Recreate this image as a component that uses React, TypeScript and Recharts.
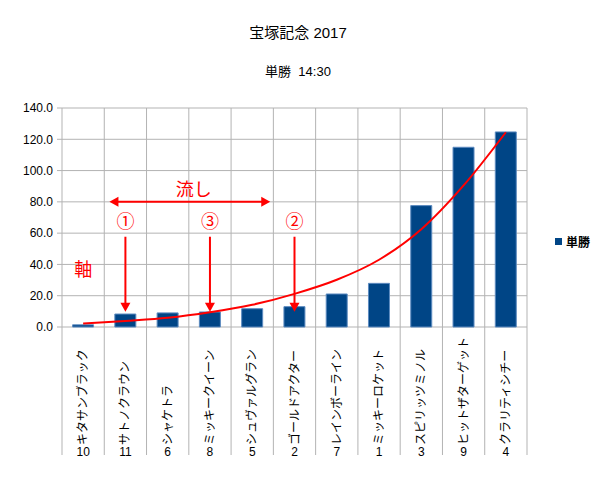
import {
  Bar,
  CartesianGrid,
  ComposedChart,
  Legend,
  Line,
  ReferenceDot,
  ReferenceLine,
  XAxis,
  YAxis,
} from "recharts";

const HORSES = [
  "キタサンブラック",
  "サトノクラウン",
  "シャケトラ",
  "ミッキークイーン",
  "シュヴァルグラン",
  "ゴールドアクター",
  "レインボーライン",
  "ミッキーロケット",
  "スピリッツミノル",
  "ヒットザターゲット",
  "クラリティシチー",
];
const NUMBERS = ["10", "11", "6", "8", "5", "2", "7", "1", "3", "9", "4"];
// 単勝オッズ
const WIN_ODDS = [1.4, 8.3, 9.0, 9.6, 11.7, 13.0, 21.1, 27.9, 77.6, 114.9, 124.7];
// 近似曲線
const TREND = [2.2, 3.9, 5.9, 9.4, 14.2, 21.2, 30.2, 43.0, 62.5, 90.5, 124.5];
const Y_TICKS = [0, 20, 40, 60, 80, 100, 120, 140];

const data = HORSES.map((name, i) => ({
  name,
  no: NUMBERS[i],
  odds: WIN_ODDS[i],
  trend: TREND[i],
}));

const GRID = "#b3b3b3";
const BAR = "#004586";
const RED = "#ff0000";
const FONT = "'Liberation Sans', 'Noto Sans CJK JP', sans-serif";

function HorseTick(props: any) {
  const { x, y, payload, index, width } = props;
  const band = (width ?? 0) / HORSES.length;
  const row = data[index];
  return (
    <g>
      <line x1={x - band / 2} y1={y} x2={x - band / 2} y2={y + 128} stroke={GRID} />
      {index === HORSES.length - 1 && (
        <line x1={x + band / 2} y1={y} x2={x + band / 2} y2={y + 128} stroke={GRID} />
      )}
      <text
        transform={`translate(${x + 4},${y + 118}) rotate(-90)`}
        fontSize={12}
        fill="#000"
        fontFamily={FONT}
      >
        {payload.value}
      </text>
      <text x={x} y={y + 129} textAnchor="middle" fontSize={12} fill="#000" fontFamily={FONT}>
        {row ? row.no : ""}
      </text>
    </g>
  );
}

function head(tx: number, ty: number, sx: number, sy: number) {
  const bx = tx - sx * 9;
  const by = ty - sy * 9;
  return `${tx},${ty} ${bx - sy * 5},${by + sx * 5} ${bx + sy * 5},${by - sx * 5}`;
}

// 下向き矢印
function downArrow(p: any) {
  const { x1, y1, x2, y2 } = p;
  return (
    <g>
      <line x1={x1} y1={y1} x2={x2} y2={y2 - 8} stroke={RED} strokeWidth={2} />
      <polygon points={head(x2, y2, 0, 1)} fill={RED} />
    </g>
  );
}

// 流し：両矢印＋ラベル
function spanArrow(p: any) {
  const { y1, y2 } = p;
  const x1 = p.x1 - 16;
  const x2 = p.x2 + 18;
  return (
    <g>
      <line x1={x1 + 8} y1={y1} x2={x2 - 8} y2={y2} stroke={RED} strokeWidth={2} />
      <polygon points={head(x2, y2, 1, 0)} fill={RED} />
      <polygon points={head(x1, y1, -1, 0)} fill={RED} />
      <text
        x={(x1 + x2) / 2 + 4}
        y={y1 - 12}
        textAnchor="middle"
        dominantBaseline="central"
        fontSize={18}
        fill={RED}
        fontFamily={FONT}
      >
        流し
      </text>
    </g>
  );
}

function note(label: string, size: number) {
  return (p: any) => (
    <text
      x={p.cx}
      y={p.cy}
      textAnchor="middle"
      dominantBaseline="central"
      fontSize={size}
      fill={RED}
      fontFamily={FONT}
    >
      {label}
    </text>
  );
}

function LegendBox(props: any) {
  const items = (props.payload ?? []).filter((e: any) => e.type !== "none");
  return (
    <div>
      {items.map((e: any) => (
        <div
          key={e.value}
          style={{ display: "flex", alignItems: "center", fontSize: 12, fontWeight: 600, fontFamily: FONT, color: "#000" }}
        >
          <span style={{ width: 7, height: 7, background: BAR, marginRight: 4, display: "inline-block" }} />
          <span>{e.value}</span>
        </div>
      ))}
    </div>
  );
}

export default function App() {
  return (
    <div style={{ position: "absolute", left: 0, top: 0, width: 600, height: 484, background: "#fff", fontFamily: FONT }}>
      <div style={{ position: "absolute", left: 0, top: 24, width: 596, textAlign: "center", fontSize: 15, lineHeight: "18px" }}>
        宝塚記念 2017
      </div>
      <div style={{ position: "absolute", left: 0, top: 63, width: 596, textAlign: "center", fontSize: 13, lineHeight: "18px", whiteSpace: "pre" }}>
        {"単勝  14:30"}
      </div>
      <ComposedChart
        width={600}
        height={484}
        data={data}
        margin={{ top: 108, right: 73, bottom: 27, left: 0 }}
        barCategoryGap="25%"
      >
        <CartesianGrid
          stroke={GRID}
          strokeDasharray=""
          verticalCoordinatesGenerator={({ offset }: any) =>
            [...HORSES.map((_, i) => i), HORSES.length].map(
              (i) => offset.left + (offset.width * i) / HORSES.length
            )
          }
        />
        <XAxis
          dataKey="name"
          interval={0}
          height={130}
          tickSize={0}
          tickMargin={0}
          tickLine={false}
          axisLine={false}
          tick={<HorseTick />}
        />
        <YAxis
          domain={[0, 140]}
          ticks={Y_TICKS}
          width={62}
          tickSize={5}
          tickMargin={4}
          axisLine={false}
          tickLine={{ stroke: GRID }}
          tickFormatter={(v: number) => v.toFixed(1)}
          tick={{ fontSize: 12, fill: "#000", fontFamily: FONT }}
        />
        <Legend
          layout="vertical"
          align="center"
          verticalAlign="middle"
          wrapperStyle={{ left: 555, top: 233, width: 45 }}
          content={<LegendBox />}
        />
        <Bar
          dataKey="odds"
          name="単勝"
          fill={BAR}
          stroke="#5d8bc0"
          strokeWidth={1}
          isAnimationActive={false}
        />
        <Line
          dataKey="trend"
          type="monotone"
          stroke={RED}
          strokeWidth={2}
          dot={false}
          activeDot={false}
          legendType="none"
          isAnimationActive={false}
        />
        <ReferenceLine
          segment={[{ x: HORSES[1], y: 80 }, { x: HORSES[4], y: 80 }]}
          shape={spanArrow}
        />
        <ReferenceLine segment={[{ x: HORSES[1], y: 57.7 }, { x: HORSES[1], y: 9.8 }]} shape={downArrow} />
        <ReferenceLine segment={[{ x: HORSES[3], y: 57.7 }, { x: HORSES[3], y: 9.8 }]} shape={downArrow} />
        <ReferenceLine segment={[{ x: HORSES[5], y: 57.7 }, { x: HORSES[5], y: 9.8 }]} shape={downArrow} />
        <ReferenceDot x={HORSES[1]} y={67.3} r={0} shape={note("①", 18)} />
        <ReferenceDot x={HORSES[3]} y={67.3} r={0} shape={note("③", 18)} />
        <ReferenceDot x={HORSES[5]} y={67.3} r={0} shape={note("②", 18)} />
        <ReferenceDot x={HORSES[0]} y={36.4} r={0} shape={note("軸", 18)} />
      </ComposedChart>
    </div>
  );
}
